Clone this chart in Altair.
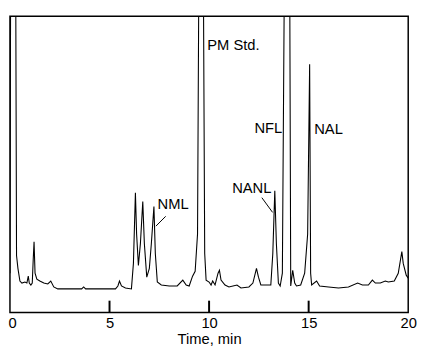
import altair as alt
import pandas as pd

# Chromatogram trace (time in min, detector signal in arbitrary units; >302 = off scale)
time = [0.0, 0.04, 0.08, 0.28, 0.33, 0.40, 0.50, 0.60, 0.75, 0.85, 0.92, 0.97, 1.05, 1.12,
        1.17, 1.21, 1.26, 1.35, 1.50, 1.70, 1.90, 2.05, 2.20, 2.40, 3.00, 3.60, 3.70, 3.80,
        4.50, 5.30, 5.42, 5.50, 5.60, 5.80, 6.10, 6.20, 6.30, 6.36, 6.45, 6.55, 6.67, 6.75,
        6.87, 7.00, 7.10, 7.23, 7.30, 7.40, 7.60, 8.00, 8.40, 8.68, 8.85, 9.00, 9.17, 9.30,
        9.42, 9.50, 9.70, 9.78, 9.85, 10.00, 10.10, 10.18, 10.30, 10.45, 10.52, 10.60, 10.80,
        11.00, 11.40, 11.60, 12.00, 12.20, 12.38, 12.48, 12.60, 12.90, 13.10, 13.20, 13.30,
        13.38, 13.48, 13.57, 13.68, 13.80, 14.04, 14.10, 14.20, 14.30, 14.39, 14.60, 14.80,
        14.95, 15.05, 15.10, 15.15, 15.40, 15.55, 16.00, 16.50, 17.00, 17.46, 17.70, 18.00,
        18.20, 18.35, 18.60, 18.85, 19.00, 19.30, 19.50, 19.68, 19.75, 19.90, 20.00]
signal = [40, 400, 400, 400, 58, 45, 32, 30, 31, 30, 37, 30, 28, 30,
          55, 72, 40, 34, 32, 30, 29, 32, 26, 24, 24, 24, 26, 24,
          24, 24, 27, 32, 27, 25, 24, 50, 122, 80, 48, 70, 113, 70,
          36, 45, 70, 108, 60, 31, 28, 27, 27, 33, 28, 27, 37, 42,
          80, 400, 400, 60, 33, 31, 28, 32, 28, 40, 43, 33, 28,
          26, 28, 25, 26, 30, 45, 36, 28, 28, 28, 60, 124,
          70, 30, 27, 40, 400, 400, 27, 43, 30, 27, 28, 40,
          80, 253, 40, 28, 32, 27, 26, 25, 26, 30, 28, 28,
          33, 30, 30, 32, 31, 32, 40, 62, 50, 38, 35]

tick_times = [5, 10, 15]
tick_top = [12, 12, 12]
axis_labels = [0, 5, 10, 15, 20]

label_text = ["PM Std.", "NML", "NANL", "NFL", "NAL"]
label_t = [9.91, 7.41, 13.13, 13.67, 15.28]
label_s = [273, 110, 127, 188, 187]
label_align = ["left", "left", "right", "right", "left"]

ptr_t1 = [7.33, 12.65]
ptr_t2 = [7.82, 13.19]
ptr_s1 = [88, 117]
ptr_s2 = [98, 102]

trace = pd.DataFrame({"t": time, "s": signal})
ticks = pd.DataFrame({"t": tick_times, "s": [0] * len(tick_times), "s2": tick_top})
labels = pd.DataFrame({"label": label_text, "t": label_t, "s": label_s, "align": label_align})
ptrs = pd.DataFrame({"t1": ptr_t1, "t2": ptr_t2, "s1": ptr_s1, "s2": ptr_s2})

xs = alt.Scale(domain=[0, 20], nice=False, zero=False)
ys = alt.Scale(domain=[0, 302], nice=False, zero=True)

xaxis = alt.Axis(values=axis_labels, title="Time, min", domain=False, ticks=False,
                 grid=False, labelFont="Liberation Sans", labelFontSize=15, labelColor="black",
                 labelPadding=3, labelFlush=False,
                 labelAlign=alt.ExprRef(expr="datum.value === 0 ? 'left' : 'center'"),
                 labelOffset=alt.ExprRef(expr="datum.value === 0 ? -2 : 0"),
                 titleFont="Liberation Sans", titleFontSize=15,
                 titleFontWeight="normal", titleColor="black", titlePadding=2, format="d")

line = alt.Chart(trace).mark_line(color="black", strokeWidth=1.1, clip=True).encode(
    x=alt.X("t:Q", scale=xs, axis=xaxis),
    y=alt.Y("s:Q", scale=ys, axis=None),
)

tk = alt.Chart(ticks).mark_rule(color="black", strokeWidth=2).encode(
    x=alt.X("t:Q", scale=xs), y=alt.Y("s:Q", scale=ys), y2="s2:Q")

def txt(align):
    d = labels[labels["align"] == align]
    return alt.Chart(d).mark_text(align=align, baseline="middle", font="Liberation Sans",
                                  fontSize=15, color="black").encode(
        x=alt.X("t:Q", scale=xs), y=alt.Y("s:Q", scale=ys), text="label:N")

pt = alt.Chart(ptrs).mark_rule(color="black", strokeWidth=1).encode(
    x=alt.X("t1:Q", scale=xs), x2="t2:Q", y=alt.Y("s1:Q", scale=ys), y2="s2:Q")

chart = alt.layer(line, tk, pt, txt("left"), txt("right")).properties(
    width=406, height=302,
    autosize=alt.AutoSizeParams(type="none"),
    padding={"left": 2, "top": 5, "right": 11, "bottom": 40},
).configure_view(stroke="black", strokeWidth=1.5)

chart.save("out.html", embed_options={"renderer": "svg", "actions": False})
